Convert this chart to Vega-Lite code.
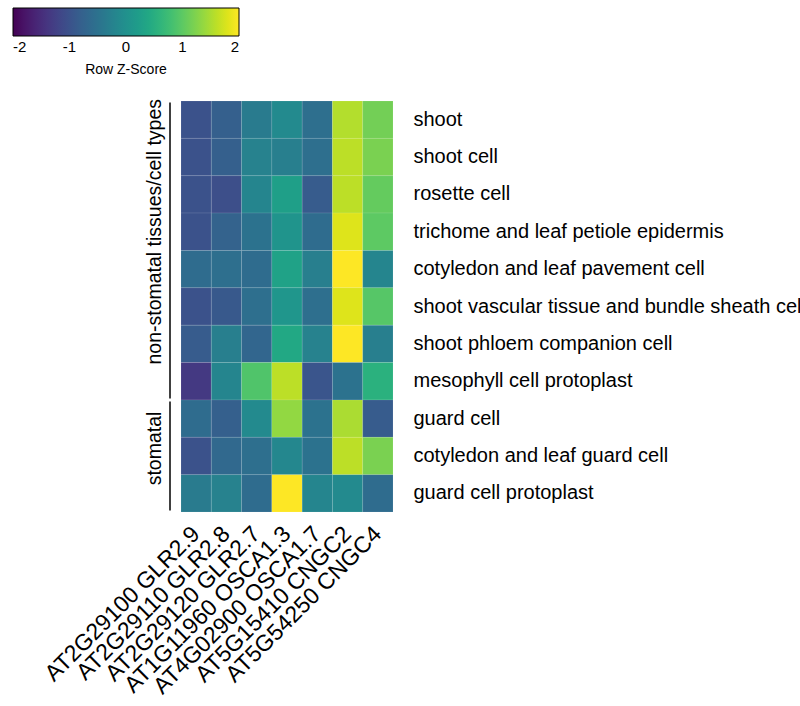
{
  "$schema": "https://vega.github.io/schema/vega-lite/v6.json",
  "padding": {"left": 13, "top": 8, "right": 0, "bottom": 0},
  "bounds": "flush",
  "config": {"font": "Liberation Sans", "view": {"stroke": null}, "concat": {"spacing": 0}},
  "datasets": {
    "groups": [
      {"group": "non-stomatal tissues/cell types", "first": "shoot", "last": "mesophyll cell protoplast", "labelRow": "trichome and leaf petiole epidermis"},
      {"group": "stomatal", "first": "guard cell", "last": "guard cell protoplast", "labelRow": "cotyledon and leaf guard cell"}
    ],
    "cells": [
      {"tissue": "shoot", "gene": "AT2G29100 GLR2.9", "z": -1.0},
      {"tissue": "shoot", "gene": "AT2G29110 GLR2.8", "z": -0.8},
      {"tissue": "shoot", "gene": "AT2G29120 GLR2.7", "z": -0.35},
      {"tissue": "shoot", "gene": "AT1G11960 OSCA1.3", "z": -0.1},
      {"tissue": "shoot", "gene": "AT4G02900 OSCA1.7", "z": -0.55},
      {"tissue": "shoot", "gene": "AT5G15410 CNGC2", "z": 1.55},
      {"tissue": "shoot", "gene": "AT5G54250 CNGC4", "z": 1.15},
      {"tissue": "shoot cell", "gene": "AT2G29100 GLR2.9", "z": -1.0},
      {"tissue": "shoot cell", "gene": "AT2G29110 GLR2.8", "z": -0.8},
      {"tissue": "shoot cell", "gene": "AT2G29120 GLR2.7", "z": -0.25},
      {"tissue": "shoot cell", "gene": "AT1G11960 OSCA1.3", "z": -0.3},
      {"tissue": "shoot cell", "gene": "AT4G02900 OSCA1.7", "z": -0.55},
      {"tissue": "shoot cell", "gene": "AT5G15410 CNGC2", "z": 1.6},
      {"tissue": "shoot cell", "gene": "AT5G54250 CNGC4", "z": 1.2},
      {"tissue": "rosette cell", "gene": "AT2G29100 GLR2.9", "z": -1.0},
      {"tissue": "rosette cell", "gene": "AT2G29110 GLR2.8", "z": -1.05},
      {"tissue": "rosette cell", "gene": "AT2G29120 GLR2.7", "z": -0.2},
      {"tissue": "rosette cell", "gene": "AT1G11960 OSCA1.3", "z": 0.25},
      {"tissue": "rosette cell", "gene": "AT4G02900 OSCA1.7", "z": -0.85},
      {"tissue": "rosette cell", "gene": "AT5G15410 CNGC2", "z": 1.6},
      {"tissue": "rosette cell", "gene": "AT5G54250 CNGC4", "z": 1.05},
      {"tissue": "trichome and leaf petiole epidermis", "gene": "AT2G29100 GLR2.9", "z": -1.0},
      {"tissue": "trichome and leaf petiole epidermis", "gene": "AT2G29110 GLR2.8", "z": -0.75},
      {"tissue": "trichome and leaf petiole epidermis", "gene": "AT2G29120 GLR2.7", "z": -0.5},
      {"tissue": "trichome and leaf petiole epidermis", "gene": "AT1G11960 OSCA1.3", "z": 0.05},
      {"tissue": "trichome and leaf petiole epidermis", "gene": "AT4G02900 OSCA1.7", "z": -0.6},
      {"tissue": "trichome and leaf petiole epidermis", "gene": "AT5G15410 CNGC2", "z": 1.8},
      {"tissue": "trichome and leaf petiole epidermis", "gene": "AT5G54250 CNGC4", "z": 1.0},
      {"tissue": "cotyledon and leaf pavement cell", "gene": "AT2G29100 GLR2.9", "z": -0.6},
      {"tissue": "cotyledon and leaf pavement cell", "gene": "AT2G29110 GLR2.8", "z": -0.55},
      {"tissue": "cotyledon and leaf pavement cell", "gene": "AT2G29120 GLR2.7", "z": -0.6},
      {"tissue": "cotyledon and leaf pavement cell", "gene": "AT1G11960 OSCA1.3", "z": 0.3},
      {"tissue": "cotyledon and leaf pavement cell", "gene": "AT4G02900 OSCA1.7", "z": -0.3},
      {"tissue": "cotyledon and leaf pavement cell", "gene": "AT5G15410 CNGC2", "z": 2.0},
      {"tissue": "cotyledon and leaf pavement cell", "gene": "AT5G54250 CNGC4", "z": -0.2},
      {"tissue": "shoot vascular tissue and bundle sheath cell", "gene": "AT2G29100 GLR2.9", "z": -1.0},
      {"tissue": "shoot vascular tissue and bundle sheath cell", "gene": "AT2G29110 GLR2.8", "z": -0.9},
      {"tissue": "shoot vascular tissue and bundle sheath cell", "gene": "AT2G29120 GLR2.7", "z": -0.55},
      {"tissue": "shoot vascular tissue and bundle sheath cell", "gene": "AT1G11960 OSCA1.3", "z": 0.1},
      {"tissue": "shoot vascular tissue and bundle sheath cell", "gene": "AT4G02900 OSCA1.7", "z": -0.55},
      {"tissue": "shoot vascular tissue and bundle sheath cell", "gene": "AT5G15410 CNGC2", "z": 1.8},
      {"tissue": "shoot vascular tissue and bundle sheath cell", "gene": "AT5G54250 CNGC4", "z": 0.95},
      {"tissue": "shoot phloem companion cell", "gene": "AT2G29100 GLR2.9", "z": -0.85},
      {"tissue": "shoot phloem companion cell", "gene": "AT2G29110 GLR2.8", "z": -0.3},
      {"tissue": "shoot phloem companion cell", "gene": "AT2G29120 GLR2.7", "z": -0.7},
      {"tissue": "shoot phloem companion cell", "gene": "AT1G11960 OSCA1.3", "z": 0.4},
      {"tissue": "shoot phloem companion cell", "gene": "AT4G02900 OSCA1.7", "z": -0.25},
      {"tissue": "shoot phloem companion cell", "gene": "AT5G15410 CNGC2", "z": 2.0},
      {"tissue": "shoot phloem companion cell", "gene": "AT5G54250 CNGC4", "z": -0.3},
      {"tissue": "mesophyll cell protoplast", "gene": "AT2G29100 GLR2.9", "z": -1.35},
      {"tissue": "mesophyll cell protoplast", "gene": "AT2G29110 GLR2.8", "z": -0.2},
      {"tissue": "mesophyll cell protoplast", "gene": "AT2G29120 GLR2.7", "z": 0.9},
      {"tissue": "mesophyll cell protoplast", "gene": "AT1G11960 OSCA1.3", "z": 1.6},
      {"tissue": "mesophyll cell protoplast", "gene": "AT4G02900 OSCA1.7", "z": -0.95},
      {"tissue": "mesophyll cell protoplast", "gene": "AT5G15410 CNGC2", "z": -0.5},
      {"tissue": "mesophyll cell protoplast", "gene": "AT5G54250 CNGC4", "z": 0.55},
      {"tissue": "guard cell", "gene": "AT2G29100 GLR2.9", "z": -0.6},
      {"tissue": "guard cell", "gene": "AT2G29110 GLR2.8", "z": -0.8},
      {"tissue": "guard cell", "gene": "AT2G29120 GLR2.7", "z": -0.1},
      {"tissue": "guard cell", "gene": "AT1G11960 OSCA1.3", "z": 1.35},
      {"tissue": "guard cell", "gene": "AT4G02900 OSCA1.7", "z": -0.5},
      {"tissue": "guard cell", "gene": "AT5G15410 CNGC2", "z": 1.5},
      {"tissue": "guard cell", "gene": "AT5G54250 CNGC4", "z": -0.85},
      {"tissue": "cotyledon and leaf guard cell", "gene": "AT2G29100 GLR2.9", "z": -1.0},
      {"tissue": "cotyledon and leaf guard cell", "gene": "AT2G29110 GLR2.8", "z": -0.65},
      {"tissue": "cotyledon and leaf guard cell", "gene": "AT2G29120 GLR2.7", "z": -0.55},
      {"tissue": "cotyledon and leaf guard cell", "gene": "AT1G11960 OSCA1.3", "z": -0.15},
      {"tissue": "cotyledon and leaf guard cell", "gene": "AT4G02900 OSCA1.7", "z": -0.5},
      {"tissue": "cotyledon and leaf guard cell", "gene": "AT5G15410 CNGC2", "z": 1.6},
      {"tissue": "cotyledon and leaf guard cell", "gene": "AT5G54250 CNGC4", "z": 1.2},
      {"tissue": "guard cell protoplast", "gene": "AT2G29100 GLR2.9", "z": -0.35},
      {"tissue": "guard cell protoplast", "gene": "AT2G29110 GLR2.8", "z": -0.25},
      {"tissue": "guard cell protoplast", "gene": "AT2G29120 GLR2.7", "z": -0.6},
      {"tissue": "guard cell protoplast", "gene": "AT1G11960 OSCA1.3", "z": 2.0},
      {"tissue": "guard cell protoplast", "gene": "AT4G02900 OSCA1.7", "z": -0.2},
      {"tissue": "guard cell protoplast", "gene": "AT5G15410 CNGC2", "z": -0.1},
      {"tissue": "guard cell protoplast", "gene": "AT5G54250 CNGC4", "z": -0.6}
    ]
  },
  "hconcat": [
    {
      "width": 35,
      "height": 411,
      "data": {"name": "groups"},
      "layer": [
        {
          "mark": {"type": "rule", "color": "black", "strokeWidth": 1.5, "yOffset": 1.5, "y2Offset": -1.5},
          "encoding": {
            "x": {"datum": 24, "type": "quantitative", "scale": {"domain": [0, 35]}, "axis": null},
            "y": {"field": "first", "type": "nominal", "bandPosition": 0, "axis": null,
              "scale": {"domain": ["shoot", "shoot cell", "rosette cell", "trichome and leaf petiole epidermis", "cotyledon and leaf pavement cell", "shoot vascular tissue and bundle sheath cell", "shoot phloem companion cell", "mesophyll cell protoplast", "guard cell", "cotyledon and leaf guard cell", "guard cell protoplast"], "paddingInner": 0, "paddingOuter": 0}},
            "y2": {"field": "last", "bandPosition": 1}
          }
        },
        {
          "transform": [{"filter": "datum.group === 'non-stomatal tissues/cell types'"}],
          "mark": {"type": "text", "angle": 270, "fontSize": 19.5, "align": "center", "baseline": "middle", "color": "black"},
          "encoding": {
            "x": {"datum": 9, "type": "quantitative"},
            "y": {"field": "labelRow", "type": "nominal", "bandPosition": 0.5},
            "text": {"field": "group"}
          }
        },
        {
          "transform": [{"filter": "datum.group === 'stomatal'"}],
          "mark": {"type": "text", "angle": 270, "fontSize": 19.5, "align": "center", "baseline": "middle", "color": "black"},
          "encoding": {
            "x": {"datum": 9, "type": "quantitative"},
            "y": {"field": "labelRow", "type": "nominal", "bandPosition": 0.3},
            "text": {"field": "group"}
          }
        }
      ]
    },
    {
      "width": 212,
      "height": 411,
      "data": {"name": "cells"},
      "mark": {"type": "rect", "stroke": "white", "strokeOpacity": 0.2, "strokeWidth": 0.5},
      "encoding": {
        "x": {"field": "gene", "type": "nominal",
          "scale": {"domain": ["AT2G29100 GLR2.9", "AT2G29110 GLR2.8", "AT2G29120 GLR2.7", "AT1G11960 OSCA1.3", "AT4G02900 OSCA1.7", "AT5G15410 CNGC2", "AT5G54250 CNGC4"], "paddingInner": 0, "paddingOuter": 0},
          "axis": {"orient": "bottom", "title": null, "labelAngle": -45, "labelFontSize": 23, "labelColor": "black", "domain": false, "ticks": false, "labelPadding": 18, "labelBaseline": "middle", "labelAlign": "right", "labelLimit": 0}},
        "y": {"field": "tissue", "type": "nominal",
          "scale": {"domain": ["shoot", "shoot cell", "rosette cell", "trichome and leaf petiole epidermis", "cotyledon and leaf pavement cell", "shoot vascular tissue and bundle sheath cell", "shoot phloem companion cell", "mesophyll cell protoplast", "guard cell", "cotyledon and leaf guard cell", "guard cell protoplast"], "paddingInner": 0, "paddingOuter": 0},
          "axis": {"orient": "right", "title": null, "labelFontSize": 20, "labelColor": "black", "domain": false, "ticks": false, "labelPadding": 20, "labelLimit": 0}},
        "color": {"field": "z", "type": "quantitative",
          "scale": {"scheme": "viridis", "domain": [-2, 2]},
          "legend": {"orient": "none", "legendX": -133, "legendY": -93, "direction": "horizontal", "gradientLength": 226, "gradientThickness": 28, "gradientStrokeColor": "black", "gradientStrokeWidth": 1, "values": [-2, -1, 0, 1, 2], "labelExpr": "'' + datum.value", "labelFontSize": 15, "labelAlign": "center", "labelColor": "black", "labelOffset": 4, "title": "Row Z-Score", "titleOrient": "bottom", "titleAnchor": "middle", "titleFontSize": 14, "titleFontWeight": "normal", "titleColor": "black", "titlePadding": 8}}
      }
    }
  ]
}
